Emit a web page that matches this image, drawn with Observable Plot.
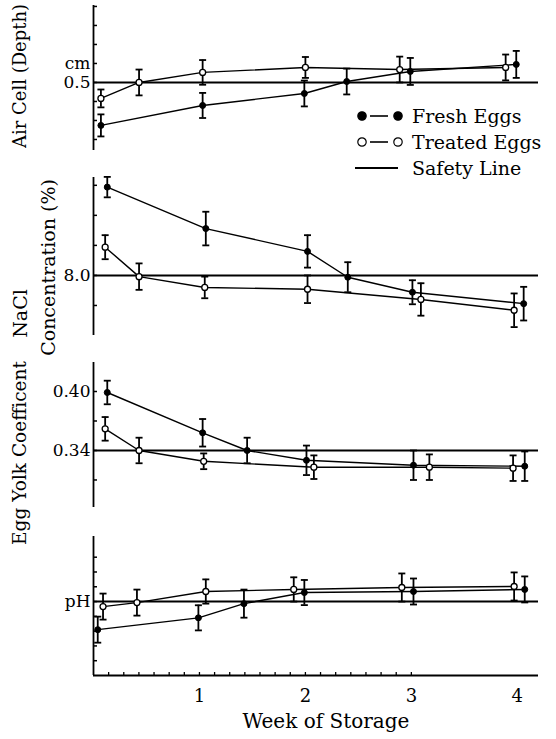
<!DOCTYPE html>
<html><head><meta charset="utf-8">
<script src="https://cdn.jsdelivr.net/npm/d3@7"></script>
<script src="https://cdn.jsdelivr.net/npm/@observablehq/plot@0.6"></script>
<style>
body{margin:0;background:#fff;}
#chart{position:relative;width:556px;height:739px;font-family:"DejaVu Serif",serif;color:#000;}
#chart svg.panel{position:absolute;left:0;overflow:visible;}
#legend{position:absolute;left:354px;top:103px;font-size:19px;line-height:26px;}
#legend .row{display:flex;align-items:center;height:26px;}
#legend svg{margin-right:8px;}
</style></head><body><div id="chart"></div>
<script>
// ---- Week axis
const weekTicks = [1, 2, 3, 4];
const dayTicks = [1,2,3,4,5,6,7,8,9,10,11,12,13,14,15,16,17,18,19,20,21].map(d => d / 7);

// ---- Panel 1: Air cell depth (cm)
const airFreshWeek   = [0.07, 1.03, 1.99, 2.39, 2.99, 3.99];
const airFresh       = [0.274, 0.379, 0.442, 0.505, 0.558, 0.595];
const airFreshErr    = [0.058, 0.066, 0.068, 0.068, 0.071, 0.071];
const airTreatedWeek = [0.07, 0.43, 1.03, 2.00, 2.89, 3.89];
const airTreated     = [0.416, 0.500, 0.553, 0.579, 0.568, 0.579];
const airTreatedErr  = [0.047, 0.068, 0.065, 0.055, 0.068, 0.068];
const airSafety = 0.5;
const airTicks = [0.2, 0.3, 0.4, 0.5, 0.6, 0.7, 0.8, 0.9];
const airLabelTicks = [0.5, 0.6];
const airLabelText = ["0.5", "cm"];

// ---- Panel 2: NaCl concentration (%)
const naclFreshWeek   = [0.13, 1.06, 2.02, 2.40, 3.01, 4.06];
const naclFresh       = [9.47, 8.78, 8.40, 7.97, 7.72, 7.53];
const naclFreshErr    = [0.17, 0.28, 0.27, 0.25, 0.20, 0.28];
const naclTreatedWeek = [0.11, 0.43, 1.05, 2.02, 3.09, 3.97];
const naclTreated     = [8.47, 7.98, 7.80, 7.77, 7.60, 7.42];
const naclTreatedErr  = [0.20, 0.22, 0.18, 0.23, 0.27, 0.28];
const naclSafety = 8.0;
const naclTicks = [7.5, 8.0, 8.5, 9.0, 9.5];
const naclLabelTicks = [8.0];
const naclLabelText = ["8.0"];

// ---- Panel 3: Egg yolk coefficient
const yolkFreshWeek   = [0.13, 1.03, 1.45, 2.01, 3.02, 4.07];
const yolkFresh       = [0.399, 0.358, 0.340, 0.330, 0.325, 0.324];
const yolkFreshErr    = [0.012, 0.014, 0.013, 0.015, 0.015, 0.015];
const yolkTreatedWeek = [0.11, 0.43, 1.04, 2.08, 3.17, 3.96];
const yolkTreated     = [0.362, 0.340, 0.329, 0.323, 0.323, 0.322];
const yolkTreatedErr  = [0.012, 0.013, 0.008, 0.012, 0.013, 0.013];
const yolkSafety = 0.34;
const yolkTicks = [0.31, 0.34, 0.37, 0.40];
const yolkLabelTicks = [0.40, 0.34];
const yolkLabelText = ["0.40", "0.34"];

// ---- Panel 4: pH (deviation from safety pH)
const phFreshWeek   = [0.04, 0.99, 1.42, 1.99, 3.02, 4.07];
const phFresh       = [-0.190, -0.110, -0.014, 0.061, 0.068, 0.082];
const phFreshErr    = [0.088, 0.085, 0.095, 0.085, 0.088, 0.088];
const phTreatedWeek = [0.09, 0.41, 1.06, 1.89, 2.91, 3.97];
const phTreated     = [-0.034, -0.007, 0.068, 0.082, 0.095, 0.102];
const phTreatedErr  = [0.088, 0.088, 0.082, 0.082, 0.095, 0.095];
const phSafety = 0;
const phTicks = [-0.4, -0.3, -0.2, -0.1, 0, 0.1, 0.2, 0.3];
const phLabelTicks = [0];
const phLabelText = ["pH"];

const rows = (w, v, e) => w.map((x, i) => ({w: x, v: v[i], e: e[i]}));
const cap = {draw(ctx) { ctx.moveTo(-3.5, 0); ctx.lineTo(3.5, 0); }};
const FONT = "DejaVu Serif";

function panel(cfg) {
  const fresh = rows(cfg.fw, cfg.fv, cfg.fe);
  const treated = rows(cfg.tw, cfg.tv, cfg.te);
  const both = fresh.concat(treated);
  const marks = [
    Plot.ruleX([0], {strokeWidth: 1.8}),
    Plot.ruleY([cfg.safety], {strokeWidth: 2}),
    Plot.axisY(cfg.ticks, {tickSize: -4, tickFormat: () => "", strokeWidth: 1.5, label: null}),
    Plot.axisY(cfg.labelTicks, {tickSize: 0, tickPadding: 3, fontSize: 17, fontFamily: FONT, label: null,
      tickFormat: d => cfg.labelText[cfg.labelTicks.indexOf(d)]}),
    Plot.line(fresh, {x: "w", y: "v", stroke: "black", strokeWidth: 1.4}),
    Plot.line(treated, {x: "w", y: "v", stroke: "black", strokeWidth: 1.4}),
    Plot.ruleX(both, {x: "w", y1: d => d.v - d.e, y2: d => d.v + d.e, strokeWidth: 1.8}),
    Plot.dot(both, {x: "w", y: d => d.v - d.e, symbol: cap, fill: "none", stroke: "black", strokeWidth: 1.8}),
    Plot.dot(both, {x: "w", y: d => d.v + d.e, symbol: cap, fill: "none", stroke: "black", strokeWidth: 1.8}),
    Plot.dot(fresh, {x: "w", y: "v", r: 3, fill: "black", stroke: "black", strokeWidth: 1}),
    Plot.dot(treated, {x: "w", y: "v", r: 3, fill: "white", stroke: "black", strokeWidth: 1.3})
  ];
  for (const t of cfg.titles) {
    marks.push(Plot.text([t.text], {text: d => d, frameAnchor: "left", textAnchor: "middle", lineAnchor: "middle",
      rotate: -90, dx: t.x - 93, dy: t.dy, fontSize: t.size, fontFamily: FONT, fill: "black"}));
  }
  if (cfg.xAxis) {
    marks.push(
      Plot.ruleY([cfg.domain[0]], {strokeWidth: 1.8}),
      Plot.axisX(dayTicks, {tickSize: -3, tickFormat: () => "", strokeWidth: 1.3, label: null}),
      Plot.axisX(weekTicks, {tickSize: 0, tickPadding: 14, fontSize: 18, fontFamily: FONT, label: null}),
      Plot.text(["Week of Storage"], {text: d => d, frameAnchor: "bottom", dy: 52, dx: 10,
        fontSize: 20, fontFamily: FONT, fill: "black"})
    );
  }
  const svg = Plot.plot({
    width: 556, height: cfg.height,
    marginLeft: 93, marginRight: 18, marginTop: cfg.mt, marginBottom: cfg.mb,
    x: {domain: [0, 4.2], axis: null},
    y: {domain: cfg.domain},
    style: {fontFamily: FONT, background: "transparent", overflow: "visible", color: "black"},
    marks
  });
  svg.classList.add("panel");
  svg.style.top = cfg.top + "px";
  return svg;
}

const chart = document.getElementById("chart");
chart.appendChild(panel({
  top: 0, height: 160, mt: 5, mb: 10, domain: [0.142, 0.905],
  fw: airFreshWeek, fv: airFresh, fe: airFreshErr, tw: airTreatedWeek, tv: airTreated, te: airTreatedErr,
  safety: airSafety, ticks: airTicks, labelTicks: airLabelTicks, labelText: airLabelText,
  titles: [{text: "Air Cell (Depth)", x: 20, dy: -2, size: 18}]
}));
chart.appendChild(panel({
  top: 165, height: 180, mt: 12, mb: 10, domain: [7.0, 9.63],
  fw: naclFreshWeek, fv: naclFresh, fe: naclFreshErr, tw: naclTreatedWeek, tv: naclTreated, te: naclTreatedErr,
  safety: naclSafety, ticks: naclTicks, labelTicks: naclLabelTicks, labelText: naclLabelText,
  titles: [{text: "NaCl", x: 20, dy: 57, size: 19}, {text: "Concentration (%)", x: 48, dy: 11, size: 19}]
}));
chart.appendChild(panel({
  top: 350, height: 165, mt: 12, mb: 8, domain: [0.282, 0.4295],
  fw: yolkFreshWeek, fv: yolkFresh, fe: yolkFreshErr, tw: yolkTreatedWeek, tv: yolkTreated, te: yolkTreatedErr,
  safety: yolkSafety, ticks: yolkTicks, labelTicks: yolkLabelTicks, labelText: yolkLabelText,
  titles: [{text: "Egg Yolk Coefficent", x: 20, dy: 18, size: 18.5}]
}));
chart.appendChild(panel({
  top: 525, height: 214, mt: 11, mb: 64, domain: [-0.5, 0.44],
  fw: phFreshWeek, fv: phFresh, fe: phFreshErr, tw: phTreatedWeek, tv: phTreated, te: phTreatedErr,
  safety: phSafety, ticks: phTicks, labelTicks: phLabelTicks, labelText: phLabelText,
  titles: [], xAxis: true
}));

// ---- Legend
const legendItems = [
  {label: "Fresh Eggs", kind: "fresh"},
  {label: "Treated Eggs", kind: "treated"},
  {label: "Safety Line", kind: "safety"}
];
const legend = document.createElement("div");
legend.id = "legend";
for (const it of legendItems) {
  const row = document.createElement("div");
  row.className = "row";
  let sym;
  if (it.kind === "safety") {
    sym = '<svg width="50" height="20"><line x1="1" y1="10" x2="44" y2="10" stroke="black" stroke-width="2"/></svg>';
  } else {
    const f = it.kind === "fresh" ? "black" : "white";
    sym = '<svg width="50" height="20"><line x1="16" y1="10" x2="34" y2="10" stroke="black" stroke-width="1.6"/>' +
      '<circle cx="8" cy="10" r="4.2" fill="' + f + '" stroke="black" stroke-width="1.2"/>' +
      '<circle cx="44" cy="10" r="4.2" fill="' + f + '" stroke="black" stroke-width="1.2"/></svg>';
  }
  row.innerHTML = sym + "<span>" + it.label + "</span>";
  legend.appendChild(row);
}
chart.appendChild(legend);
</script></body></html>
